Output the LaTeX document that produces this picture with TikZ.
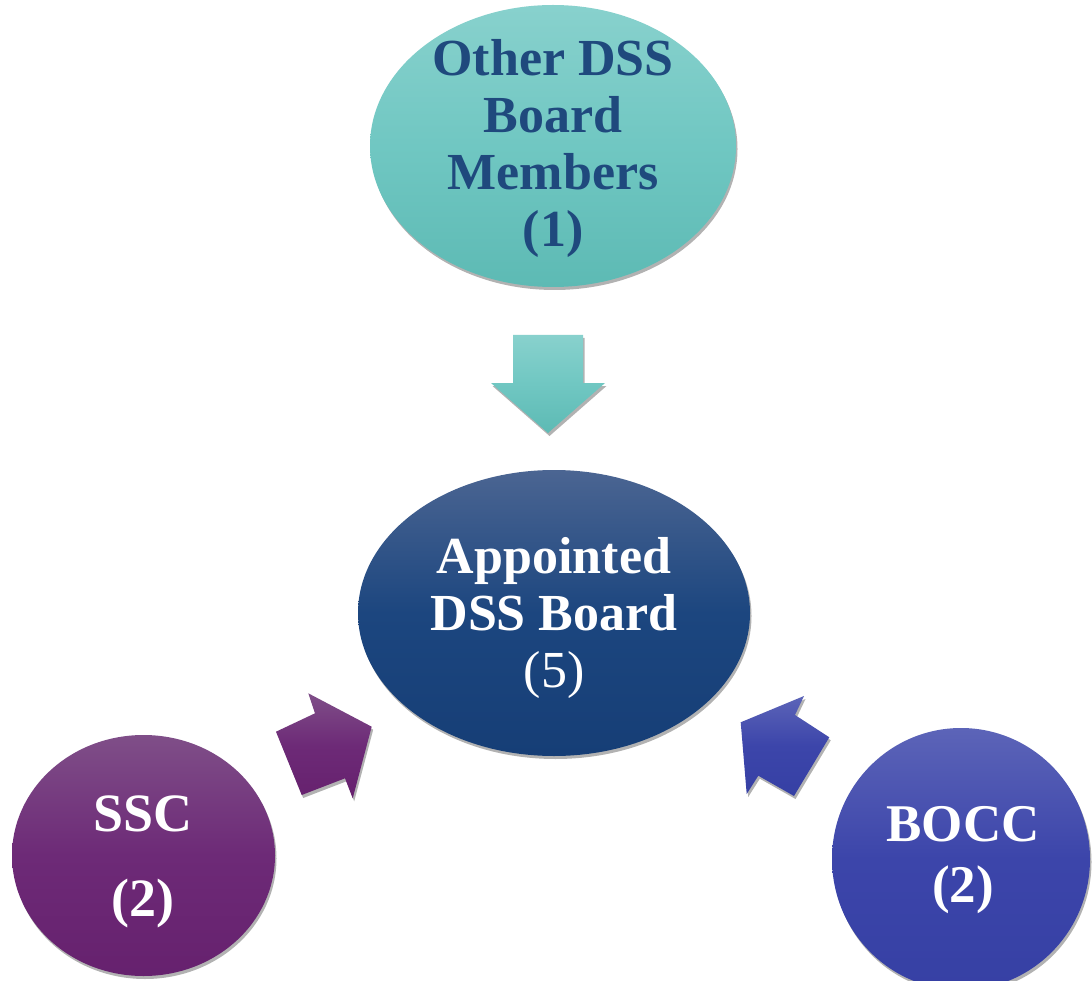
\documentclass[tikz,border=0pt]{standalone}
\usepackage{fontspec}
\setmainfont{Liberation Serif}
\usetikzlibrary{shapes.geometric,shadows}
\definecolor{tealtop}{HTML}{88D1CD}
\definecolor{tealmid}{HTML}{70C7C2}
\definecolor{tealbot}{HTML}{5DBAB4}
\definecolor{navytop}{HTML}{4B6592}
\definecolor{navymid}{HTML}{1C467F}
\definecolor{navybot}{HTML}{163E76}
\definecolor{purptop}{HTML}{7F4E88}
\definecolor{purpmid}{HTML}{6D2A77}
\definecolor{purpbot}{HTML}{66216E}
\definecolor{bluetop}{HTML}{5C64B8}
\definecolor{bluemid}{HTML}{3C45AA}
\definecolor{bluebot}{HTML}{3640A4}
\definecolor{darktext}{HTML}{1F497D}
\tikzset{
  shade/.style={drop shadow={shadow xshift=1.5pt, shadow yshift=-3pt, opacity=0.3, fill=black}},
  blob/.style={ellipse, draw=none, inner sep=0pt, shade},
  tealfill/.style={top color=tealtop, bottom color=tealbot, middle color=tealmid},
  navyfill/.style={top color=navytop, bottom color=navybot, middle color=navymid},
  purpfill/.style={top color=purptop, bottom color=purpbot, middle color=purpmid},
  bluefill/.style={top color=bluetop, bottom color=bluebot, middle color=bluemid},
  label/.style={align=center, inner sep=0pt, font=\fontsize{52}{57}\selectfont\bfseries},
}
\begin{document}
\begin{tikzpicture}[x=1pt, y=-1pt]
\useasboundingbox[fill=white] (0,0) rectangle (1092,981);

% top ellipse
\node[blob, tealfill, minimum width=366pt, minimum height=282pt] (other) at (553,146) {};
\node[label, text=darktext] (othertext) at (553,148) {Other DSS\\Board\\Members\\(1)};

% down arrow
\path[tealfill, shade] (513,335) coordinate (da1) -- (583,335) -- (583,383) -- (605,383)
  -- (548,433) coordinate (datip) -- (491,383) -- (513,383) -- cycle;

% centre ellipse
\node[blob, navyfill, minimum width=392pt, minimum height=286pt] (board) at (554,613) {};
\node[label, text=white] (boardtext) at (554,618) {Appointed\\DSS Board\\{\mdseries (5)}};

% SSC
\node[blob, purpfill, minimum width=263pt, minimum height=241pt] (ssc) at (143.5,855.5) {};
\node[label, text=white, font=\fontsize{54}{61}\selectfont\bfseries] (ssctext) at (143,862) {SSC\\[24pt](2)};
\path[purpfill, shade] (308.3,693.3) -- (371.7,726.7) -- (352.7,798.3) -- (345,778.3)
  -- (301.7,795) -- (276,731.7) -- (315,713.3) -- cycle;

% BOCC
\node[blob, bluefill, minimum width=258pt, minimum height=262pt] (bocc) at (961,859) {};
\node[label, text=white, font=\fontsize{53}{61}\selectfont\bfseries] (bocctext) at (963,860) {BOCC\\(2)};
\path[bluefill, shade] (804,696) -- (795,715) -- (829.3,737.3) -- (794,796)
  -- (758.3,775.7) -- (746.7,794) -- (740.7,722.3) -- cycle;
\end{tikzpicture}
\end{document}
